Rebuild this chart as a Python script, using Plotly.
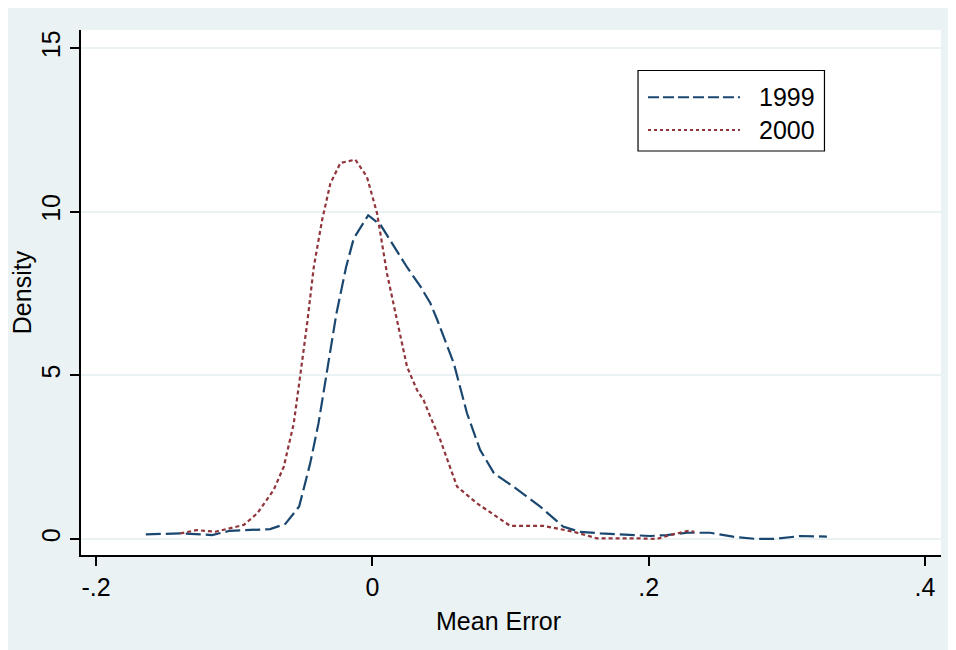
import plotly.graph_objects as go

# ---- data ----
x_1999 = [-0.164, -0.139, -0.116, -0.103, -0.074, -0.063, -0.053, -0.045, -0.039, -0.033,
          -0.026, -0.019, -0.0135, -0.003, 0.006, 0.025, 0.035, 0.042, 0.047, 0.059,
          0.0685, 0.078, 0.088, 0.102, 0.1215, 0.138, 0.150, 0.165, 0.191, 0.201,
          0.213, 0.228, 0.2445, 0.261, 0.278, 0.290, 0.310, 0.329]
y_1999 = [0.14, 0.17, 0.12, 0.25, 0.30, 0.46, 0.99, 2.31, 3.53, 5.06,
          6.89, 8.31, 9.18, 9.89, 9.59, 8.31, 7.70, 7.20, 6.69, 5.36,
          3.84, 2.72, 2.01, 1.60, 0.99, 0.38, 0.22, 0.17, 0.12, 0.09,
          0.12, 0.19, 0.19, 0.07, 0.0, 0.0, 0.09, 0.07]

x_2000 = [-0.139, -0.127, -0.1136, -0.093, -0.0834, -0.0714, -0.0641, -0.0569, -0.052, -0.0472,
          -0.0424, -0.0364, -0.0304, -0.0231, -0.0123, -0.0039, 0.0034, 0.0106, 0.0178, 0.0251,
          0.0323, 0.0371, 0.042, 0.0492, 0.0613, 0.0757, 0.0998, 0.1239, 0.1456, 0.1625,
          0.1915, 0.206, 0.2156, 0.2288, 0.233]
y_2000 = [0.17, 0.27, 0.22, 0.43, 0.78, 1.50, 2.21, 3.53, 5.06, 6.59,
          8.31, 9.74, 10.86, 11.49, 11.59, 11.06, 9.95, 8.11, 6.69, 5.26,
          4.55, 4.24, 3.73, 3.02, 1.60, 1.09, 0.40, 0.40, 0.22, 0.02,
          0.02, 0.0, 0.12, 0.25, 0.22]

series_names = ["1999", "2000"]
x_title = "Mean Error"
y_title = "Density"
x_ticks = [-0.2, 0, 0.2, 0.4]
x_ticklabels = ["-.2", "0", ".2", ".4"]
y_ticks = [0, 5, 10, 15]
y_ticklabels = ["0", "5", "10", "15"]

# ---- styles ----
BG = "#EAF2F3"
C1999 = "#1A476F"
C2000 = "#90353B"
DASH1999 = "15px,5px"
DASH2000 = "4px,3px"
LEG_DASH1999 = "11px,4px"
LEG_DASH2000 = "3px,3px"
LW = 2.2
FONT = "Liberation Sans, Arial, sans-serif"
FS = 25

fig = go.Figure()
fig.add_trace(go.Scatter(x=x_1999, y=y_1999, mode="lines", name=series_names[0],
                         line=dict(color=C1999, width=LW, dash=DASH1999), showlegend=False))
fig.add_trace(go.Scatter(x=x_2000, y=y_2000, mode="lines", name=series_names[1],
                         line=dict(color=C2000, width=LW, dash=DASH2000), showlegend=False))

# manual legend (box, long line samples, labels)
shapes = [
    dict(type="rect", xref="paper", yref="paper", x0=0.6477, x1=0.8645, y0=0.7695, y1=0.9229,
         fillcolor="white", line=dict(color="black", width=1.2)),
    dict(type="line", xref="paper", yref="paper", x0=0.6593, x1=0.7663, y0=0.8718, y1=0.8718,
         line=dict(color=C1999, width=2, dash=LEG_DASH1999)),
    dict(type="line", xref="paper", yref="paper", x0=0.6593, x1=0.7663, y0=0.8095, y1=0.8095,
         line=dict(color=C2000, width=2, dash=LEG_DASH2000)),
]
annotations = [
    dict(xref="paper", yref="paper", x=0.7857, y=0.8718, text=series_names[0], showarrow=False,
         xanchor="left", yanchor="middle", font=dict(family=FONT, size=FS, color="black")),
    dict(xref="paper", yref="paper", x=0.7857, y=0.8095, text=series_names[1], showarrow=False,
         xanchor="left", yanchor="middle", font=dict(family=FONT, size=FS, color="black")),
    dict(xref="paper", yref="paper", x=0.486, y=-0.125, text=x_title, showarrow=False,
         xanchor="center", yanchor="middle", font=dict(family=FONT, size=FS, color="black")),
]

fig.update_layout(
    width=956, height=650,
    margin=dict(l=73, r=23, t=22, b=103),
    paper_bgcolor=BG, plot_bgcolor="white",
    font=dict(family=FONT, size=FS, color="black"),
    shapes=shapes, annotations=annotations,
    showlegend=False,
)
fig.update_xaxes(
    range=[-0.2109, 0.4116], tickvals=x_ticks, ticktext=x_ticklabels,
    showgrid=False, zeroline=False, showline=True, linecolor="black", linewidth=1.5,
    ticks="outside", ticklen=9, tickwidth=1.5, tickcolor="black",
    tickfont=dict(size=FS),
)
fig.update_yaxes(
    range=[-0.49, 15.55], tickvals=y_ticks, ticktext=y_ticklabels, tickangle=-90,
    showgrid=True, gridcolor=BG, gridwidth=2, zeroline=False,
    showline=True, linecolor="black", linewidth=1.5,
    ticks="outside", ticklen=9, tickwidth=1.5, tickcolor="black",
    title=dict(text=y_title, standoff=0, font=dict(size=FS)),
    tickfont=dict(size=FS),
)

fig.write_html("out.html")
